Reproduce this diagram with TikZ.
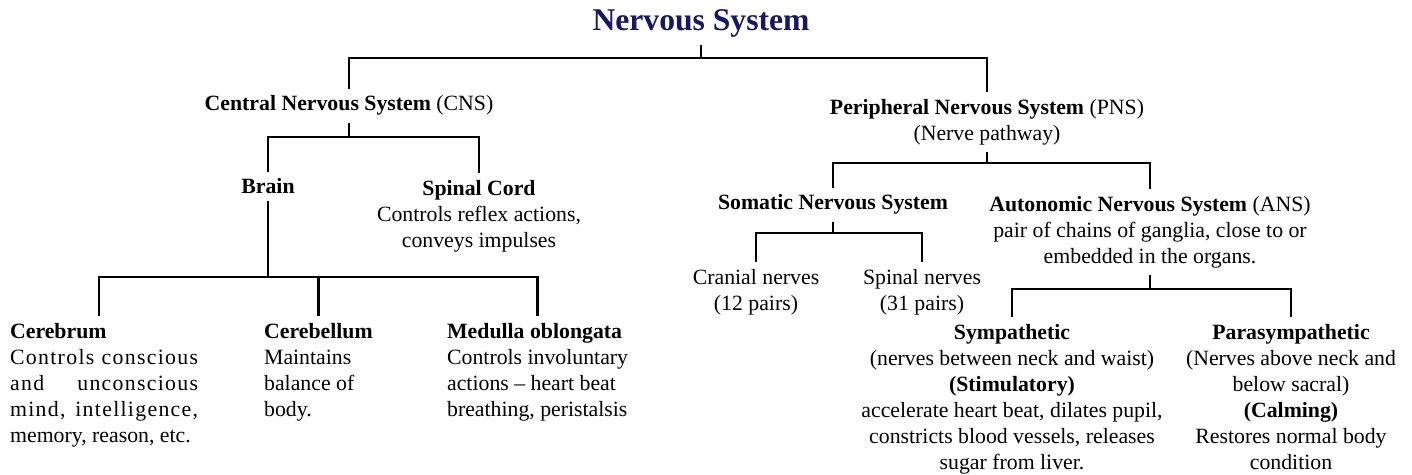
\documentclass[tikz,border=0pt]{standalone}
\usepackage{fontspec}
\setmainfont{Liberation Serif}
\usepackage{xcolor}
\usetikzlibrary{positioning}
\definecolor{navy}{RGB}{24,24,98}

\begin{document}
\begin{tikzpicture}[x=0.02cm, y=-0.02cm, line width=1.3pt]
				\tikzstyle{txt}  = [inner xsep=0pt, inner ysep=0.12cm, font=\fontsize{12.4}{14.8}\selectfont]
				\tikzstyle{mid}  = [txt, align=center, anchor=north]
				\tikzstyle{lft}  = [txt, align=left, anchor=north west]
				\tikzstyle{just} = [txt, text width=3.76cm, align=justify, anchor=north west]
				\tikzstyle{head} = [inner ysep=0.12cm, font=\fontsize{18}{20}\selectfont\bfseries, text=navy]
				
				\useasboundingbox (0,0) rectangle (1412,475);
				
				\node[head, anchor=base]	at (701, 31)	(ns)	{Nervous System};
				\node[txt, anchor=base]		at (349, 111)	(cns)	{\textbf{Central Nervous System} (CNS)};
				\node[mid]					at (987, 92)	(pns)	{\textbf{Peripheral Nervous System} (PNS)\\(Nerve pathway)};
				
				\node[txt, anchor=base]		at (268, 194)	(brain)	{\textbf{Brain}};
				\node[mid]					at (479, 173)	(cord)	{\textbf{Spinal Cord}\\Controls reflex actions,\\conveys impulses};
				
				\node[just]					at (9, 316)		(cerebrum)		{\textbf{Cerebrum}\\{\addfontfeature{LetterSpace=6}Controls conscious\linebreak and unconscious\linebreak mind, intelligence,\linebreak}memory, reason, etc.};
				\node[lft]					at (263, 316)	(cerebellum)	{\textbf{Cerebellum}\\Maintains\\balance of\\body.};
				\node[lft]					at (446, 316)	(medulla)		{\textbf{Medulla oblongata}\\Controls involuntary\\actions -- heart beat\\breathing, peristalsis};
				
				\node[txt, anchor=base]		at (833, 210)	(somatic)	{\textbf{Somatic Nervous System}};
				\node[mid]					at (1150, 189)	(ans)		{\textbf{Autonomic Nervous System} (ANS)\\pair of chains of ganglia, close to or\\embedded in the organs.};
				\node[mid]					at (756, 262)	(cranial)	{Cranial nerves\\(12 pairs)};
				\node[mid]					at (922, 262)	(spinal)	{Spinal nerves\\(31 pairs)};
				
				\node[mid]	at (1012, 317)	(symp)	{\textbf{Sympathetic}\\(nerves between neck and waist)\\\textbf{(Stimulatory)}\\accelerate heart beat, dilates pupil,\\constricts blood vessels, releases\\sugar from liver.};
				\node[mid]	at (1291, 317)	(para)	{\textbf{Parasympathetic}\\(Nerves above neck and\\below sacral)\\\textbf{(Calming)}\\Restores normal body\\condition};
				
				\coordinate (j0) at (701, 58);
				\coordinate (j1) at (349, 137);
				\coordinate (j2) at (268, 277);
				\coordinate (j3) at (987, 163);
				\coordinate (j4) at (833, 233);
				\coordinate (j5) at (1150, 289);
				
				\draw (ns.south) -- (j0);
				\draw (cns.north) |- (j0) -| (pns.north);
				\draw (cns.south) -- (j1);
				\draw (brain.north) |- (j1) -| (cord.north);
				\draw (brain.south) -- (j2);
				\draw ([xshift=-0.1cm]cerebrum.north) |- (j2) -| (medulla.north);
				\draw (cerebellum.north) -- (cerebellum.north |- j2);
				\draw (pns.south) -- (j3);
				\draw (somatic.north) |- (j3) -| (ans.north);
				\draw (somatic.south) -- (j4);
				\draw (cranial.north) |- (j4) -| (spinal.north);
				\draw (ans.south) -- (j5);
				\draw (symp.north) |- (j5) -| (para.north);
			\end{tikzpicture}
\end{document}
